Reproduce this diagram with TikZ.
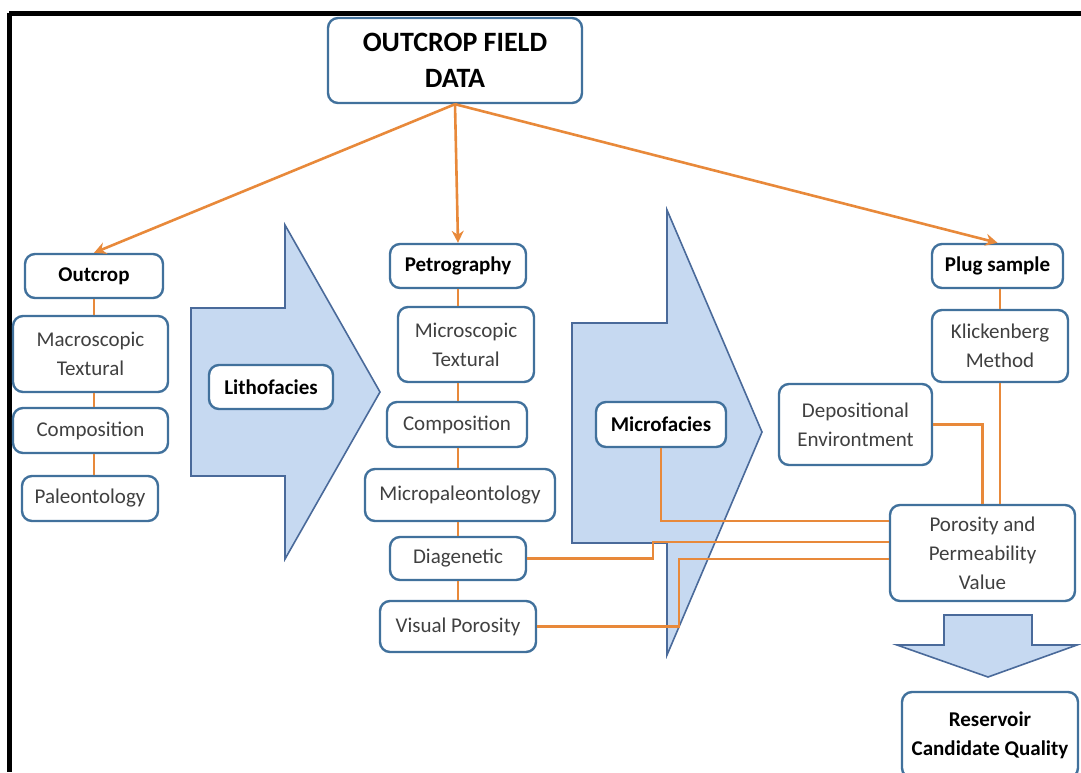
\documentclass[tikz,border=0pt]{standalone}
\usepackage{fontspec}
\setmainfont{Carlito}
\usetikzlibrary{arrows.meta,calc}
\definecolor{boxblue}{HTML}{41719C}
\definecolor{arrowfill}{HTML}{C6D9F1}
\definecolor{arrowline}{HTML}{4A6A9A}
\definecolor{linkorange}{HTML}{E8893A}
\definecolor{txtgray}{HTML}{404040}
\begin{document}
\begin{tikzpicture}[x=0.5pt,y=-0.5pt,
 box/.style={draw=boxblue,line width=1.2pt,fill=white,rounded corners=5pt,inner sep=0pt,align=center,font=\fontsize{10.5}{14.5}\selectfont,text=txtgray},
 head/.style={box,font=\fontsize{10.5}{14.5}\selectfont\bfseries,text=black},
 bigarrow/.style={draw=arrowline,line width=0.8pt,fill=arrowfill,line join=miter},
 link/.style={draw=linkorange,line width=1.3pt},
 tip/.style={link,-{Stealth[length=6pt,width=6pt]}}]
\useasboundingbox (0,0) rectangle (1081,772);
\clip (0,0) rectangle (1081,772);
% frame
\draw[line width=2.5pt] (9,13)--(1081,13) (9,13)--(9,772);
% facies arrows
\draw[bigarrow](191,308)--(285,308)--(285,225)--(380,392)--(285,559)--(285,476)--(191,476)--cycle;
\draw[bigarrow](572,323)--(667,323)--(667,210)--(762,432)--(667,655)--(667,543)--(572,543)--cycle;
\draw[bigarrow](944,615)--(1032,615)--(1032,645)--(1077,645)--(988,677)--(897,645)--(944,645)--cycle;
% boxes
\node[head,minimum width=127pt,minimum height=42.5pt,font=\fontsize{14}{18}\selectfont\bfseries](data) at (455,60.5){OUTCROP FIELD\\DATA};
\node[head,minimum width=69pt,minimum height=22pt](outcrop) at (94,276){Outcrop};
\node[box,minimum width=77.5pt,minimum height=38pt](macro) at (90.5,354){Macroscopic\\Textural};
\node[box,minimum width=77.5pt,minimum height=22.5pt](compo) at (90.5,430.5){Composition};
\node[box,minimum width=68pt,minimum height=22.5pt](paleo) at (90,498.5){Paleontology};
\node[head,minimum width=62pt,minimum height=22pt](litho) at (271,387){Lithofacies};
\node[head,minimum width=68pt,minimum height=22pt](petro) at (458,266){Petrography};
\node[box,minimum width=68pt,minimum height=37.5pt](micro) at (466,344.5){Microscopic\\Textural};
\node[box,minimum width=70pt,minimum height=22.5pt](compob) at (457,424.5){Composition};
\node[box,minimum width=95pt,minimum height=26pt](micropaleo) at (460,495){Micropaleontology};
\node[box,minimum width=68pt,minimum height=21.5pt](diagen) at (458,558.5){Diagenetic};
\node[box,minimum width=78pt,minimum height=25.5pt](visual) at (458,626.5){Visual Porosity};
\node[head,minimum width=65pt,minimum height=22.5pt](microfacies) at (661,424.5){Microfacies};
\node[head,minimum width=65.5pt,minimum height=22pt](plug) at (997.5,266){Plug sample};
\node[box,minimum width=68pt,minimum height=36pt](klick) at (1000,346){Klickenberg\\Method};
\node[box,minimum width=76.5pt,minimum height=40.5pt](depo) at (855.5,424.5){Depositional\\Environtment};
\node[box,minimum width=92.5pt,minimum height=48pt](poro) at (982.5,553){Porosity and\\Permeability\\Value};
\node[head,minimum width=88pt,minimum height=43pt](reservoir) at (990,735){Reservoir\\Candidate Quality};
% links
\draw[tip](data.south)--(outcrop.north);
\draw[tip](data.south)--(petro.north);
\draw[tip](data.south)--(plug.north);
\foreach \a/\b in {outcrop/macro,macro/compo,compo/paleo}
 \draw[link](outcrop.south|-\a.south)--(outcrop.south|-\b.north);
\foreach \a/\b in {petro/micro,micro/compob,compob/micropaleo,micropaleo/diagen,diagen/visual}
 \draw[link](petro.south|-\a.south)--(petro.south|-\b.north);
\draw[link](klick.south|-plug.south)--(klick.north);
\draw[link](klick.south)--(klick.south|-poro.north);
\draw[link](depo.east)-|(poro.north);
\draw[link](microfacies.south)|-($(poro.west)+(0,-32)$);
\draw[link](diagen.east)-|($(poro.west)+(-236,-11)$)|-($(poro.west)+(0,-11)$);
\draw[link](visual.east)-|($(poro.west)+(-210,6)$)|-($(poro.west)+(0,6)$);
\end{tikzpicture}
\end{document}
